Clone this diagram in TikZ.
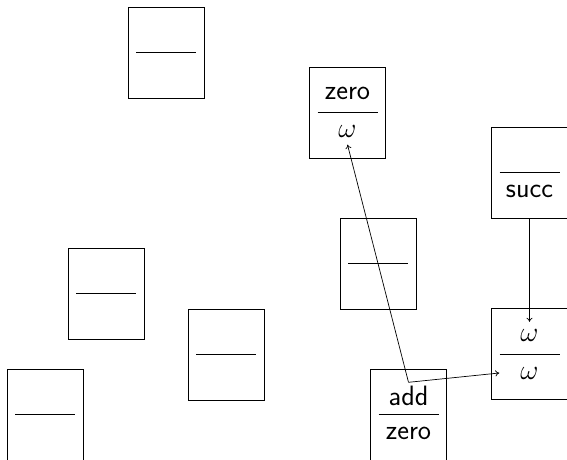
\RequirePackage{fix-cm}
\documentclass[tikz,border=0pt]{standalone}
\usepackage{fontspec}
\usetikzlibrary{calc,arrows.meta}
\begin{document}
\begin{tikzpicture}[x=1pt,y=-1pt,
  judg/.style={draw,line width=0.8pt,minimum width=76pt,minimum height=91pt,inner sep=0pt},
  term/.style={minimum width=60pt,minimum height=26pt,inner sep=0pt,font=\fontsize{28}{32}\selectfont\sffamily},
  bar/.style={line width=0.8pt},
  link/.style={line width=0.7pt,-{To[length=4pt,width=6pt]}}]
\useasboundingbox (0,0) rectangle (567,460);

% judgement boxes
\node[judg] (b1) at (166,52.5) {};
\node[judg] (zo) at (347.5,112.5) {};
\node[judg] (su) at (529.5,172.5) {};
\node[judg] (ww) at (529.5,354) {};
\node[judg] (az) at (408.5,414.5) {};
\node[judg] (mr) at (378,263.5) {};
\node[judg] (lf) at (106,293.5) {};
\node[judg] (ct) at (226,354.5) {};
\node[judg] (bl) at (45,414.5) {};

% fraction bars
\foreach \b in {b1,zo,su,ww,az,mr,lf,ct,bl}
  \draw[bar] ($(\b.center)+(-30,0)$) -- ($(\b.center)+(30,0)$);

% premises and conclusions
\node[term] (zo-n) at ($(zo.center)+(0,-19)$) {zero};
\node[term] (zo-d) at ($(zo.center)+(0,19)$) {$\omega$};
\node[term] (su-d) at ($(su.center)+(0,19)$) {succ};
\node[term] (ww-n) at ($(ww.center)+(0,-19)$) {$\omega$};
\node[term] (ww-d) at ($(ww.center)+(0,19)$) {$\omega$};
\node[term] (az-n) at ($(az.center)+(0,-19)$) {add};
\node[term] (az-d) at ($(az.center)+(0,19)$) {zero};

% links
\draw[link] (az-n.north) -- (zo-d.south);
\draw[link] (az-n.north) -- (ww-d.west);
\draw[link] (su.south) -- (ww-n.north);
\end{tikzpicture}
\end{document}
